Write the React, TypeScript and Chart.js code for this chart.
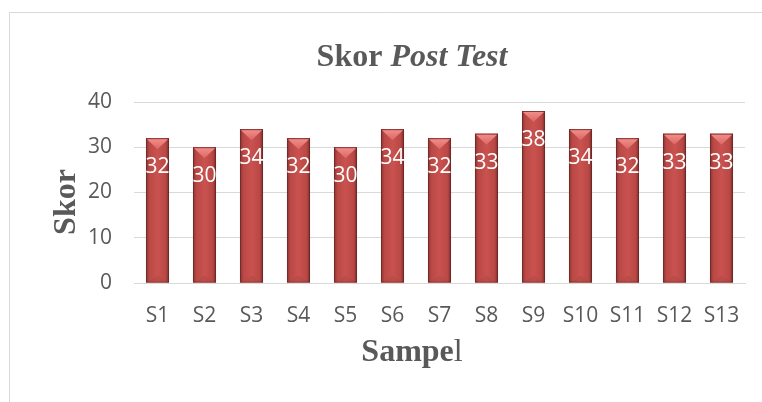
import React, { useEffect, useRef } from "react";
import { Chart, registerables } from "chart.js";

Chart.register(...registerables);

const categories = ["S1", "S2", "S3", "S4", "S5", "S6", "S7", "S8", "S9", "S10", "S11", "S12", "S13"];
const scores = [32, 30, 34, 32, 30, 34, 32, 33, 38, 34, 32, 33, 33];
const yTicks = [0, 10, 20, 30, 40];
const titleParts = ["Skor ", "Post Test"];
const xTitleParts = ["Sampe", "l"];
const yTitleText = "Skor";

const TEXT = "#595959";
const GRID = "#D9D9D9";
const SERIF = "'Liberation Serif', 'Times New Roman', serif";
const SANS = "'Open Sans', 'Noto Sans', sans-serif";

const decorPlugin = {
  id: "decor",
  beforeDraw(chart: any) {
    const ctx = chart.ctx;
    ctx.save();
    ctx.fillStyle = "#ffffff";
    ctx.fillRect(0, 0, chart.width, chart.height);
    ctx.strokeStyle = GRID;
    ctx.lineWidth = 1;
    ctx.beginPath();
    ctx.moveTo(9.5, chart.height + 2);
    ctx.lineTo(9.5, 12.5);
    ctx.lineTo(chart.width + 2, 12.5);
    ctx.stroke();
    ctx.restore();
  },
  afterDatasetsDraw(chart: any) {
    const ctx = chart.ctx;
    const meta = chart.getDatasetMeta(0);
    ctx.save();
    meta.data.forEach((bar: any, i: number) => {
      const { x, y, base, width } = bar.getProps(["x", "y", "base", "width"], true);
      const left = x - width / 2;
      const right = x + width / 2;
      const g = ctx.createLinearGradient(left, 0, right, 0);
      g.addColorStop(0, "#8A302E");
      g.addColorStop(0.14, "#B94845");
      g.addColorStop(0.5, "#C9524F");
      g.addColorStop(0.86, "#B94845");
      g.addColorStop(1, "#7C2A28");
      ctx.fillStyle = g;
      ctx.fillRect(left, y, width, base - y);
      ctx.strokeStyle = "rgba(90,40,38,0.55)";
      ctx.lineWidth = 1;
      ctx.strokeRect(left + 0.5, y + 0.5, width - 1, base - y - 1);
      const cg = ctx.createLinearGradient(0, y, 0, y + 11);
      cg.addColorStop(0, "#F4908D");
      cg.addColorStop(1, "#DA6763");
      ctx.fillStyle = cg;
      ctx.beginPath();
      ctx.moveTo(left + 1, y + 1);
      ctx.lineTo(right - 1, y + 1);
      ctx.lineTo(x, y + 11);
      ctx.closePath();
      ctx.fill();
      ctx.fillStyle = "rgba(175,70,66,0.45)";
      ctx.beginPath();
      ctx.moveTo(left + 3, base - 1);
      ctx.lineTo(right - 3, base - 1);
      ctx.lineTo(x, base - 7);
      ctx.closePath();
      ctx.fill();
      ctx.fillStyle = "#ffffff";
      ctx.font = `21px ${SANS}`;
      ctx.textAlign = "center";
      ctx.textBaseline = "middle";
      ctx.fillText(String(scores[i]), x, y + 29);
    });
    ctx.restore();
  },
  afterDraw(chart: any) {
    const ctx = chart.ctx;
    ctx.save();
    ctx.fillStyle = TEXT;
    ctx.textBaseline = "alphabetic";
    ctx.textAlign = "left";
    const f1 = `bold 32px ${SERIF}`;
    const f2 = `italic bold 32px ${SERIF}`;
    ctx.font = f1;
    const w1 = ctx.measureText(titleParts[0]).width;
    ctx.font = f2;
    const w2 = ctx.measureText(titleParts[1]).width;
    let sx = 412 - (w1 + w2) / 2;
    ctx.font = f1;
    ctx.fillText(titleParts[0], sx, 66);
    ctx.font = f2;
    ctx.fillText(titleParts[1], sx + w1, 66);
    const f3 = `bold 32px ${SERIF}`;
    const f4 = `32px ${SERIF}`;
    ctx.font = f3;
    const a = ctx.measureText(xTitleParts[0]).width;
    ctx.font = f4;
    const b = ctx.measureText(xTitleParts[1]).width;
    sx = 412 - (a + b) / 2;
    ctx.font = f3;
    ctx.fillText(xTitleParts[0], sx, 361);
    ctx.font = f4;
    ctx.fillText(xTitleParts[1], sx + a, 361);
    ctx.translate(75, 202);
    ctx.rotate(-Math.PI / 2);
    ctx.font = `bold 32px ${SERIF}`;
    ctx.textAlign = "center";
    ctx.fillText(yTitleText, 0, 0);
    ctx.restore();
  },
};

export default function App() {
  const ref = useRef<HTMLCanvasElement | null>(null);
  useEffect(() => {
    document.body.style.margin = "0";
    if (!ref.current) return;
    const chart = new Chart(ref.current, {
      type: "bar",
      data: {
        labels: categories,
        datasets: [
          {
            data: scores,
            backgroundColor: "#C0504D",
            borderWidth: 0,
            categoryPercentage: 1,
            barPercentage: 0.49,
          },
        ],
      },
      options: {
        responsive: false,
        animation: false,
        devicePixelRatio: 1,
        layout: { padding: { left: 0, top: 102, right: 17, bottom: 0 } },
        plugins: {
          legend: { display: false },
          title: { display: false },
          tooltip: { enabled: false },
        },
        scales: {
          x: {
            grid: { display: false, drawTicks: false },
            border: { display: true, color: GRID, width: 1 },
            ticks: { color: TEXT, font: { family: SANS, size: 21 }, padding: 20, maxRotation: 0, autoSkip: false },
            afterFit: (s: any) => {
              s.height = 119;
            },
          },
          y: {
            min: 0,
            max: 40,
            grid: { color: GRID, drawTicks: false, lineWidth: 1 },
            border: { display: false },
            ticks: { color: TEXT, font: { family: SANS, size: 21 }, padding: 22, stepSize: 10 },
            afterBuildTicks: (s: any) => {
              s.ticks = yTicks.map((v) => ({ value: v }));
            },
            afterFit: (s: any) => {
              s.width = 134;
            },
          },
        },
      },
      plugins: [decorPlugin],
    });
    return () => chart.destroy();
  }, []);
  return (
    <div style={{ width: 762, height: 402 }}>
      <canvas ref={ref} width={762} height={402} />
    </div>
  );
}
